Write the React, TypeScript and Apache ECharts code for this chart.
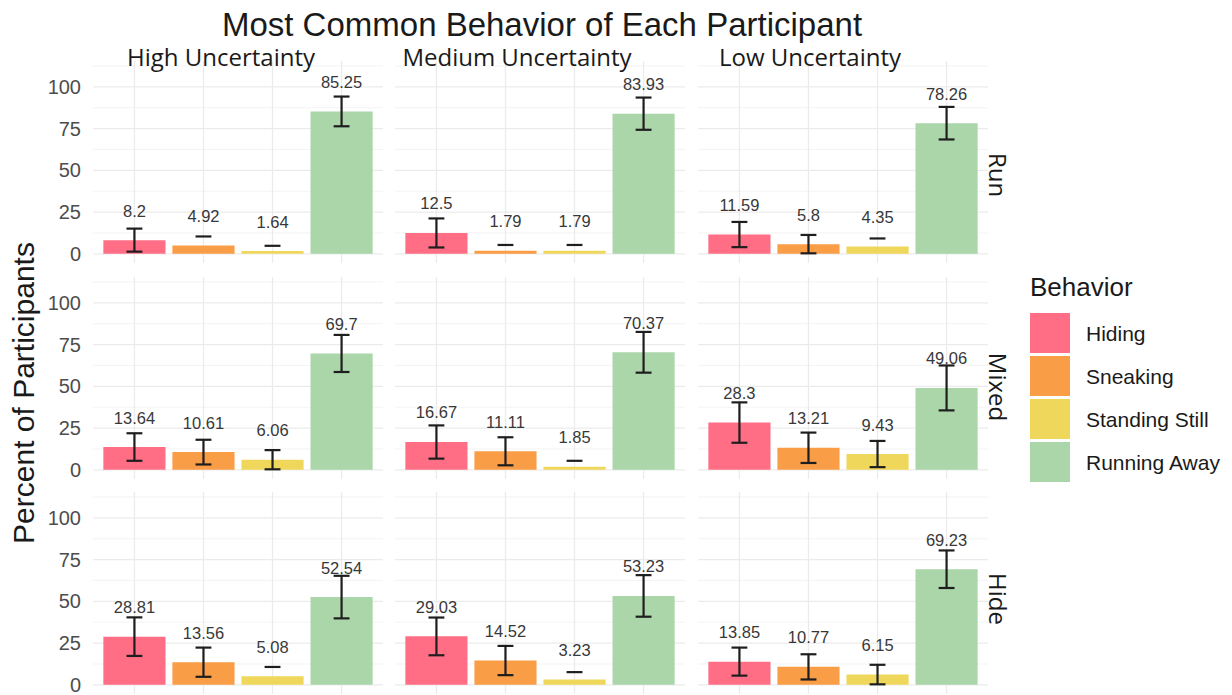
import React, { useEffect, useRef } from "react";
import * as echarts from "echarts";

// ---------- data ----------
const behaviors = ["Hiding", "Sneaking", "Standing Still", "Running Away"];
const behaviorColors = ["#FF6E84", "#F99D47", "#EFD75B", "#AAD6AA"];
const uncertainties = ["High Uncertainty", "Medium Uncertainty", "Low Uncertainty"];
const conditions = ["Run", "Mixed", "Hide"];

const yMajorTicks = [0, 25, 50, 75, 100];
const yMinorTicks = [12.5, 37.5, 62.5, 87.5, 112.5];
const xPositions = [1, 2, 3, 4];

// percent of participants (bar heights)
const runHigh = [8.2, 4.92, 1.64, 85.25];
const runMedium = [12.5, 1.79, 1.79, 83.93];
const runLow = [11.59, 5.8, 4.35, 78.26];
const mixedHigh = [13.64, 10.61, 6.06, 69.7];
const mixedMedium = [16.67, 11.11, 1.85, 70.37];
const mixedLow = [28.3, 13.21, 9.43, 49.06];
const hideHigh = [28.81, 13.56, 5.08, 52.54];
const hideMedium = [29.03, 14.52, 3.23, 53.23];
const hideLow = [13.85, 10.77, 6.15, 69.23];

// error bar lower ends (null = below the axis, only the upper cap is drawn)
const runHighLo = [1.3, null, null, 76.4];
const runMediumLo = [3.8, null, null, 74.3];
const runLowLo = [4.0, 0.3, null, 68.5];
const mixedHighLo = [5.4, 3.2, 0.3, 58.6];
const mixedMediumLo = [6.7, 2.7, null, 58.2];
const mixedLowLo = [16.2, 4.1, 1.6, 35.6];
const hideHighLo = [17.3, 4.8, null, 39.8];
const hideMediumLo = [17.7, 5.8, null, 40.8];
const hideLowLo = [5.5, 3.2, 0.3, 58.0];

// error bar upper ends
const runHighHi = [15.1, 10.4, 4.8, 94.2];
const runMediumHi = [21.2, 5.3, 5.3, 93.6];
const runLowHi = [19.1, 11.3, 9.2, 88.0];
const mixedHighHi = [21.9, 18.0, 11.8, 80.8];
const mixedMediumHi = [26.6, 19.5, 5.4, 82.6];
const mixedLowHi = [40.4, 22.3, 17.3, 62.5];
const hideHighHi = [40.4, 22.3, 10.7, 65.3];
const hideMediumHi = [40.3, 23.3, 7.6, 65.7];
const hideLowHi = [22.3, 18.3, 12.0, 80.5];

const panelValues = [
  [runHigh, runMedium, runLow],
  [mixedHigh, mixedMedium, mixedLow],
  [hideHigh, hideMedium, hideLow],
];
const panelLo = [
  [runHighLo, runMediumLo, runLowLo],
  [mixedHighLo, mixedMediumLo, mixedLowLo],
  [hideHighLo, hideMediumLo, hideLowLo],
];
const panelHi = [
  [runHighHi, runMediumHi, runLowHi],
  [mixedHighHi, mixedMediumHi, mixedLowHi],
  [hideHighHi, hideMediumHi, hideLowHi],
];

// ---------- layout ----------
const colLeft = [93, 395, 698];
const rowTop = [61, 277, 492];
const panelW = 290;
const panelH = 202;
const SANS = "Liberation Sans, Arial, sans-serif";
const STRIP = "Open Sans, Noto Sans, sans-serif";

function buildOption() {
  const grid: any[] = [];
  const xAxis: any[] = [];
  const yAxis: any[] = [];
  const series: any[] = [];
  let idx = 0;
  for (let r = 0; r < 3; r++) {
    for (let c = 0; c < 3; c++) {
      grid.push({ left: colLeft[c], top: rowTop[r], width: panelW, height: panelH, containLabel: false });
      xAxis.push({ gridIndex: idx, type: "value", min: 0.4, max: 4.6, show: false });
      yAxis.push({
        gridIndex: idx,
        type: "value",
        min: -5.5,
        max: 115.5,
        axisLine: { show: false },
        axisTick: { show: false },
        splitLine: { show: false },
        axisLabel: {
          show: c === 0,
          customValues: yMajorTicks,
          fontSize: 20,
          color: "#4D4D4D",
          fontFamily: SANS,
          margin: 12,
        },
      });
      // horizontal grid lines
      series.push({
        type: "custom",
        xAxisIndex: idx,
        yAxisIndex: idx,
        silent: true,
        z: 0,
        data: yMajorTicks.map((v) => [2.5, v, 1]).concat(yMinorTicks.map((v) => [2.5, v, 0])),
        renderItem: (params: any, api: any) => {
          const cs = params.coordSys;
          const y = api.coord([2.5, api.value(1)])[1];
          const major = api.value(2) === 1;
          return {
            type: "line",
            shape: { x1: cs.x, y1: y, x2: cs.x + cs.width, y2: y },
            style: { stroke: major ? "#EBEBEB" : "#F2F2F2", lineWidth: major ? 1.3 : 0.9 },
          };
        },
      });
      // vertical grid lines
      series.push({
        type: "custom",
        xAxisIndex: idx,
        yAxisIndex: idx,
        silent: true,
        z: 0,
        data: xPositions.map((v) => [v, 50]),
        renderItem: (params: any, api: any) => {
          const cs = params.coordSys;
          const x = api.coord([api.value(0), 50])[0];
          return {
            type: "line",
            shape: { x1: x, y1: cs.y, x2: x, y2: cs.y + cs.height },
            style: { stroke: "#EBEBEB", lineWidth: 1.3 },
          };
        },
      });
      const vals = panelValues[r][c];
      series.push({
        type: "bar",
        name: conditions[r] + " - " + uncertainties[c],
        xAxisIndex: idx,
        yAxisIndex: idx,
        barWidth: "90%",
        z: 2,
        data: vals.map((v, i) => ({ value: [xPositions[i], v], itemStyle: { color: behaviorColors[i] } })),
        label: {
          show: true,
          position: "top",
          distance: 21,
          fontSize: 16.5,
          fontFamily: SANS,
          color: "#383838",
          formatter: (p: any) => String(p.value[1]),
        },
      });
      const lo = panelLo[r][c];
      const hi = panelHi[r][c];
      series.push({
        type: "custom",
        xAxisIndex: idx,
        yAxisIndex: idx,
        z: 3,
        encode: { x: 0, y: 2 },
        data: hi.map((h, i) => [xPositions[i], lo[i] === null ? NaN : lo[i], h]),
        renderItem: (params: any, api: any) => {
          const x = api.value(0);
          const l = api.value(1);
          const h = api.value(2);
          const half = api.size([0.23, 0])[0] / 2;
          const pH = api.coord([x, h]);
          const style = { stroke: "#1E1E1E", lineWidth: 2.2 };
          const children: any[] = [
            { type: "line", shape: { x1: pH[0] - half, y1: pH[1], x2: pH[0] + half, y2: pH[1] }, style },
          ];
          if (!isNaN(l)) {
            const pL = api.coord([x, l]);
            children.push({ type: "line", shape: { x1: pH[0], y1: pH[1], x2: pL[0], y2: pL[1] }, style });
            children.push({ type: "line", shape: { x1: pL[0] - half, y1: pL[1], x2: pL[0] + half, y2: pL[1] }, style });
          }
          return { type: "group", children };
        },
      });
      idx++;
    }
  }

  const colStripX = [221, 517, 810];
  const rowStripY = [175, 387, 599];
  const graphic: any[] = [];
  const txt = (extra: any) => ({ type: "text", z: 50, ...extra });
  graphic.push(
    txt({
      x: 542,
      y: 24,
      style: { text: "Most Common Behavior of Each Participant", fontSize: 33, fontFamily: SANS, fill: "#1A1A1A", align: "center", verticalAlign: "middle", textAlign: "center", textVerticalAlign: "middle" },
    })
  );
  uncertainties.forEach((u, c) => {
    graphic.push(
      txt({
        x: colStripX[c],
        y: 56,
        style: { text: u, fontSize: 24, fontFamily: STRIP, fill: "#1A1A1A", align: "center", verticalAlign: "middle", textAlign: "center", textVerticalAlign: "middle" },
      })
    );
  });
  conditions.forEach((cn, r) => {
    graphic.push(
      txt({
        x: 998,
        y: rowStripY[r],
        rotation: -Math.PI / 2,
        style: { text: cn, fontSize: 24, fontFamily: STRIP, fill: "#1A1A1A", align: "center", verticalAlign: "middle", textAlign: "center", textVerticalAlign: "middle" },
      })
    );
  });
  graphic.push(
    txt({
      x: 23,
      y: 393,
      rotation: Math.PI / 2,
      style: { text: "Percent of Participants", fontSize: 30, fontFamily: SANS, fill: "#1A1A1A", align: "center", verticalAlign: "middle", textAlign: "center", textVerticalAlign: "middle" },
    })
  );
  // legend
  graphic.push(
    txt({
      x: 1030,
      y: 287,
      style: { text: "Behavior", fontSize: 26, fontFamily: SANS, fill: "#1A1A1A", align: "left", verticalAlign: "middle", textAlign: "left", textVerticalAlign: "middle" },
    })
  );
  behaviors.forEach((b, i) => {
    const top = 313 + i * 43;
    graphic.push({ type: "rect", z: 50, shape: { x: 1030, y: top, width: 40, height: 40 }, style: { fill: behaviorColors[i] } });
    graphic.push(
      txt({
        x: 1086,
        y: top + 20,
        style: { text: b, fontSize: 21, fontFamily: SANS, fill: "#1A1A1A", align: "left", verticalAlign: "middle", textAlign: "left", textVerticalAlign: "middle" },
      })
    );
  });

  return {
    animation: false,
    backgroundColor: "#FFFFFF",
    textStyle: { fontFamily: SANS },
    grid,
    xAxis,
    yAxis,
    series,
    graphic,
  };
}

export default function App() {
  const ref = useRef<HTMLDivElement>(null);
  useEffect(() => {
    if (!ref.current) return;
    const chart = echarts.init(ref.current, undefined, { renderer: "svg" });
    chart.setOption(buildOption() as any);
    return () => chart.dispose();
  }, []);
  return <div ref={ref} style={{ position: "absolute", left: 0, top: 0, width: 1232, height: 695 }} />;
}
